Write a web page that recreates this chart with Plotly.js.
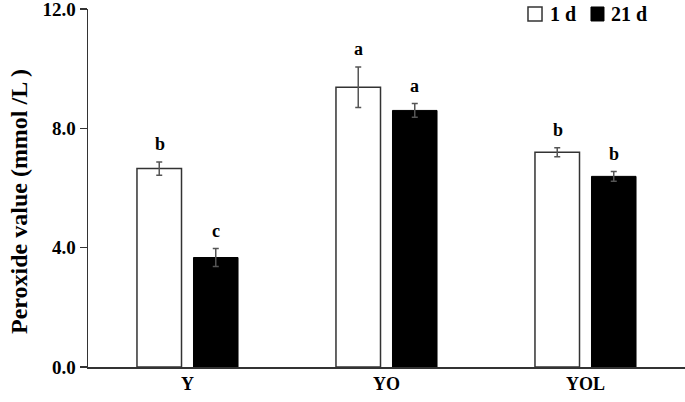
<!DOCTYPE html>
<html><head><meta charset="utf-8">
<script src="https://cdn.plot.ly/plotly-3.0.1.min.js"></script>
<style>html,body{margin:0;padding:0;background:#fff}</style>
</head><body><div id="chart" style="width:685px;height:402px"></div>
<script>
var categories = ["Y", "YO", "YOL"];
var seriesNames = ["1 d", "21 d"];
var day1 = [6.65, 9.38, 7.20];
var day1Err = [0.22, 0.68, 0.15];
var day21 = [3.67, 8.60, 6.39];
var day21Err = [0.30, 0.23, 0.16];
var letters1 = ["b", "a", "b"];
var letters21 = ["c", "a", "b"];
var yTicks = [0, 4, 8, 12];
var yTitle = "Peroxide value (mmol /L )";

var fontFam = '"Liberation Serif", "Times New Roman", serif';
var traces = [
  {type:'bar', name:seriesNames[0], x:categories, y:day1,
   marker:{color:'#ffffff', line:{color:'#333333', width:1.5}},
   error_y:{type:'data', array:day1Err, visible:true, color:'#555555', thickness:1.5, width:3}},
  {type:'bar', name:seriesNames[1], x:categories, y:day21,
   marker:{color:'#000000', line:{color:'#000000', width:1}},
   error_y:{type:'data', array:day21Err, visible:true, color:'#555555', thickness:1.5, width:3}}
];
var off = 0.1407;
var ann = [];
for (var i = 0; i < categories.length; i++) {
  ann.push({x:i-off, y:day1[i]+day1Err[i], xref:'x', yref:'y', text:letters1[i], showarrow:false,
    yanchor:'bottom', yshift:6, font:{family:fontFam, size:18, color:'#000', weight:'bold'}});
  ann.push({x:i+off, y:day21[i]+day21Err[i], xref:'x', yref:'y', text:letters21[i], showarrow:false,
    yanchor:'bottom', yshift:6, font:{family:fontFam, size:18, color:'#000', weight:'bold'}});
}
// custom legend
ann.push({x:0.7705, y:0.986, xref:'paper', yref:'paper', xanchor:'left', yanchor:'middle', text:seriesNames[0],
  showarrow:false, font:{family:fontFam, size:20, color:'#000', weight:'bold'}});
ann.push({x:0.8727, y:0.986, xref:'paper', yref:'paper', xanchor:'left', yanchor:'middle', text:seriesNames[1],
  showarrow:false, font:{family:fontFam, size:20, color:'#000', weight:'bold'}});
// y-axis title
ann.push({x:-0.1156, y:0.4637, xref:'paper', yref:'paper', xanchor:'center', yanchor:'middle', text:yTitle,
  textangle:-90, showarrow:false, font:{family:fontFam, size:24, color:'#000', weight:'bold'}});
var shapes = [
  {type:'rect', xref:'paper', yref:'paper', x0:0.737, x1:0.7605, y0:0.9665, y1:1.0056,
   fillcolor:'#fff', line:{color:'#333', width:1.5}},
  {type:'rect', xref:'paper', yref:'paper', x0:0.8425, x1:0.8643, y0:0.9665, y1:1.0056,
   fillcolor:'#000', line:{color:'#000', width:1}}
];
var layout = {
  width:685, height:402,
  margin:{l:88, r:0, t:9, b:35},
  paper_bgcolor:'#fff', plot_bgcolor:'#fff',
  font:{family:fontFam, color:'#000'},
  barmode:'group', bargap:0.432, bargroupgap:0.212,
  showlegend:false,
  xaxis:{type:'category', range:[-0.5, 2.5], showline:true, linecolor:'#333', linewidth:1.5,
    ticks:'', showgrid:false, zeroline:false,
    tickfont:{family:fontFam, size:18, color:'#000', weight:'bold'}},
  yaxis:{range:[0, 12], tickvals:yTicks, tickformat:'.1f', showline:true, linecolor:'#333', linewidth:1.5,
    ticks:'outside', ticklen:7, tickwidth:1.5, tickcolor:'#333', showgrid:false, zeroline:false,
    ticklabeloverflow:'allow',
    tickfont:{family:fontFam, size:19, color:'#000', weight:'bold'}},
  annotations:ann,
  shapes:shapes
};
Plotly.newPlot('chart', traces, layout, {displayModeBar:false, staticPlot:true});
</script></body></html>
